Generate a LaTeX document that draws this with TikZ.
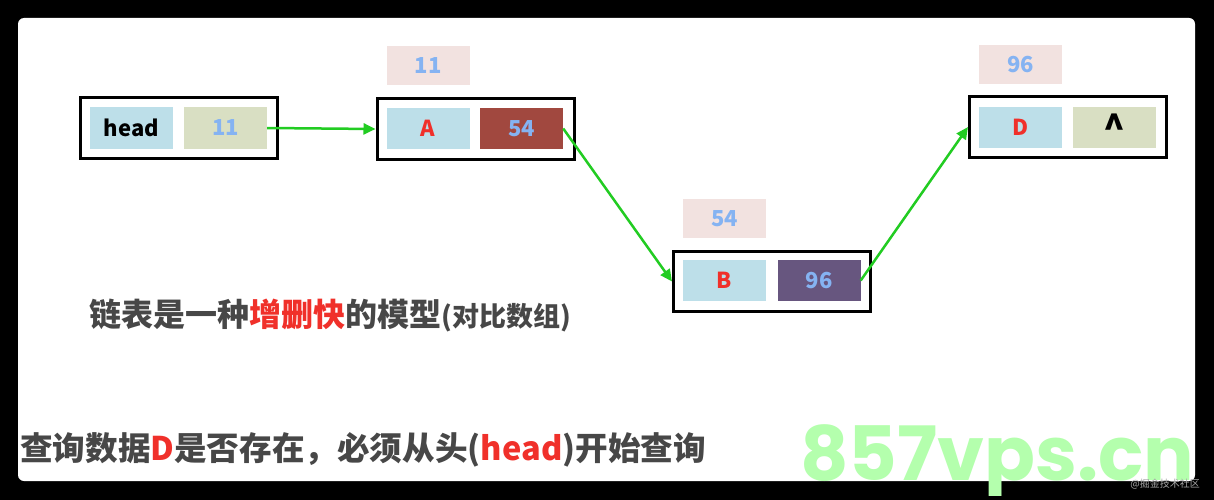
\documentclass[tikz,border=0pt]{standalone}
\usepackage{fontspec}
\setmainfont{Noto Sans CJK SC}
\newfontfamily\wmfont{Poppins}
\usetikzlibrary{arrows.meta}
\definecolor{cellblue}{HTML}{BDDFE9}
\definecolor{cellolive}{HTML}{D9DFC3}
\definecolor{cellred}{HTML}{A1483F}
\definecolor{cellpurple}{HTML}{67567F}
\definecolor{labelpink}{HTML}{F2E2E0}
\definecolor{numblue}{HTML}{85B3F2}
\definecolor{letterred}{HTML}{F0302A}
\definecolor{arrowgreen}{HTML}{22CC22}
\definecolor{textgray}{HTML}{474747}
\definecolor{wmgreen}{HTML}{B4FFAD}
\begin{document}
\begin{tikzpicture}[x=1pt,y=-1pt,
  outer/.style={draw=black, line width=3pt, minimum width=197pt, minimum height=60pt, inner sep=0pt},
  cell/.style={minimum width=83pt, minimum height=41pt, inner sep=0pt, font=\fontsize{22}{22}\selectfont\bfseries},
  lbl/.style={fill=labelpink, minimum width=83pt, minimum height=39pt, inner sep=0pt, text=numblue, font=\fontsize{22}{22}\selectfont\bfseries},
  link/.style={draw=arrowgreen, line width=2.5pt, -{Triangle[length=12pt,width=11pt]}},
  caption/.style={anchor=base west, inner sep=0pt, text=textgray}]
\useasboundingbox (0,0) rectangle (1214,500);
\fill[black] (0,0) rectangle (1214,500);
\fill[white, rounded corners=6pt] (18,18) rectangle (1195,481);

% head
\node[outer] (headbox) at (179,128) {};
\node[cell, fill=cellblue, text=black] (headcell) at (131.5,128) {head};
\node[cell, fill=cellolive, text=numblue] (headnext) at (225.5,128) {11};

% A
\node[lbl] (Aaddr) at (428,65.5) {11};
\node[outer] (Abox) at (475.5,129) {};
\node[cell, fill=cellblue, text=letterred] (Adata) at (428,128.5) {A};
\node[cell, fill=cellred, text=numblue] (Anext) at (521.5,128.5) {54};

% B
\node[lbl] (Baddr) at (724.5,218.5) {54};
\node[outer] (Bbox) at (772,281.5) {};
\node[cell, fill=cellblue, text=letterred] (Bdata) at (724,280.5) {B};
\node[cell, fill=cellpurple, text=numblue] (Bnext) at (819,280.5) {96};

% D
\node[lbl] (Daddr) at (1020.5,64.5) {96};
\node[outer] (Dbox) at (1068,127) {};
\node[cell, fill=cellblue, text=letterred] (Ddata) at (1020.5,127.5) {D};
\node[cell, fill=cellolive, text=black] (Dnext) at (1114,127.5)
  {\raisebox{-0.42em}{\fontsize{36}{36}\selectfont\textasciicircum}};

% links
\draw[link] (headnext.east) -- (Abox.west);
\draw[link] (Anext.east) -- (Bbox.west);
\draw[link] (Bnext.east) -- (Dbox.west);

% captions
\node[caption, font=\fontsize{32}{32}\selectfont\bfseries] (line1) at (89,326)
  {链表是一种\textcolor{letterred}{增删快}的模型{\fontsize{27}{27}\selectfont(对比数组)}};
\node[caption, font=\fontsize{32.6}{32.6}\selectfont\bfseries] (line2) at (20,460)
  {查询数据\textcolor{letterred}{D}是否存在，必须从头(\textcolor{letterred}{head})开始查询};

% watermarks
\begin{scope}
\clip (0,0) rectangle (1214,495);
\node[anchor=base west, inner sep=0pt, text=wmgreen, font=\wmfont\bfseries\fontsize{75}{75}\selectfont] (wm) at (800,480) {857vps.cn};
\end{scope}
\node[anchor=base east, inner sep=0pt, text=gray!70, font=\fontsize{10}{10}\selectfont] (wm2) at (1200,487) {@掘金技术社区};
\end{tikzpicture}
\end{document}
